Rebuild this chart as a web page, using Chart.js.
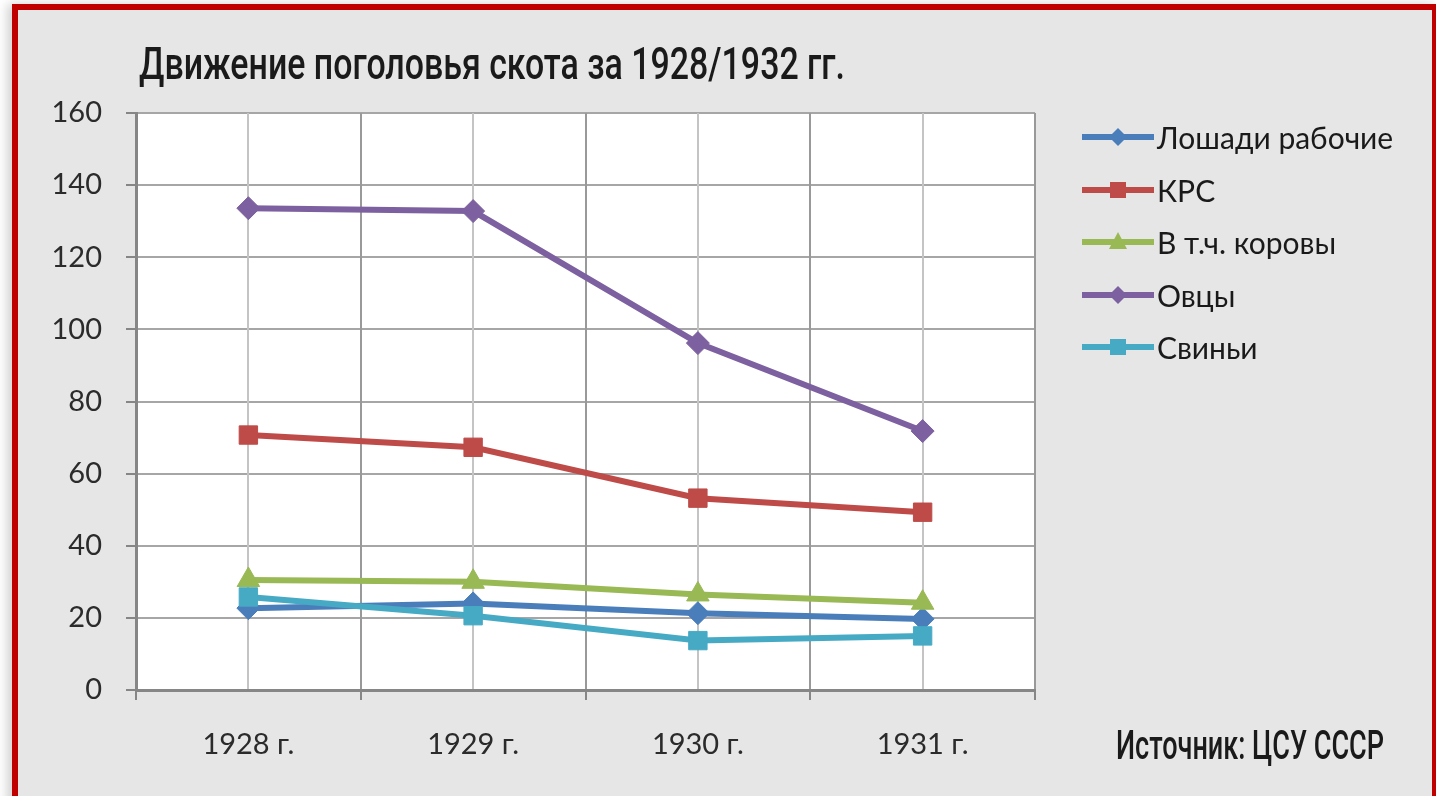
<!DOCTYPE html>
<html lang="ru">
<head>
<meta charset="utf-8">
<script src="https://cdn.jsdelivr.net/npm/chart.js@4.4.1/dist/chart.umd.min.js"></script>
<style>
  html, body { margin: 0; padding: 0; background: #fff; }
  body { width: 1436px; height: 796px; overflow: hidden; position: relative; font-family: Lato, sans-serif; }
  .frame {
    position: absolute; left: 12px; top: 4px; width: 1414px; height: 900px;
    border: 6px solid #c00000; background: #e6e6e6;
    box-shadow: -5px 0 10px rgba(0,0,0,0.18);
  }
  .wrap { position: absolute; left: 0; top: 0; width: 1436px; height: 796px; }
  .cond {
    position: absolute; white-space: nowrap; transform-origin: 0 0;
    font-family: Roboto, sans-serif; font-weight: 500; color: #1a1a1a;
  }
  .title { left: 139px; top: 37px; font-size: 45px; }
  .source { left: 1116px; top: 722px; font-size: 40px; }
  .legend { position: absolute; left: 1082px; top: 0; }
  .legend .item { position: absolute; left: 0; height: 36px; display: flex; align-items: center; white-space: nowrap; }
  .legend svg { display: block; margin-right: 3px; }
  .legend span { font-size: 30px; color: #1a1a1a; }
</style>
</head>
<body>
<div class="frame"></div>
<div class="wrap"><canvas id="chart"></canvas></div>
<div class="cond title" data-w="706">Движение поголовья скота за 1928/1932 гг.</div>
<div class="legend" id="legend"></div>
<div class="cond source" data-w="268">Источник: ЦСУ СССР</div>
<script>
const years = ['1928 г.', '1929 г.', '1930 г.', '1931 г.'];
const seriesNames = ['Лошади рабочие', 'КРС', 'В т.ч. коровы', 'Овцы', 'Свиньи'];
const horses = [22.7, 24.0, 21.3, 19.7];
const cattle = [70.7, 67.3, 53.2, 49.3];
const cows   = [30.5, 30.0, 26.5, 24.2];
const sheep  = [133.6, 132.8, 96.2, 71.8];
const pigs   = [25.8, 20.6, 13.7, 15.0];
const yTicks = [0, 20, 40, 60, 80, 100, 120, 140, 160];

const colors = ['#4a7ebb', '#be4b48', '#98b954', '#7d60a0', '#46aac5'];
const markers = ['rectRot', 'rect', 'triangle', 'rectRot', 'rect'];
const markerSize = { rectRot: 11.5, rect: 13, triangle: 13 };
const values = [horses, cattle, cows, sheep, pigs];

const datasets = seriesNames.map((name, i) => ({
  label: name,
  data: values[i],
  borderColor: colors[i],
  backgroundColor: colors[i],
  pointBackgroundColor: colors[i],
  pointBorderColor: colors[i],
  pointStyle: markers[i],
  pointRadius: markerSize[markers[i]],
  pointHoverRadius: markerSize[markers[i]],
  pointBorderWidth: 1,
  borderWidth: 6,
  tension: 0,
  order: seriesNames.length - i   // later series drawn on top, like Excel
}));

const plotBg = {
  id: 'plotBg',
  beforeDraw(chart) {
    const { ctx, chartArea: a } = chart;
    ctx.save();
    ctx.fillStyle = '#ffffff';
    ctx.fillRect(a.left, a.top, a.right - a.left, a.bottom - a.top);
    ctx.restore();
  }
};

const tickFont = { family: 'Lato', size: 29 };

new Chart(document.getElementById('chart'), {
  type: 'line',
  data: { labels: years, datasets },
  plugins: [plotBg],
  options: {
    responsive: true,
    maintainAspectRatio: false,
    animation: false,
    layout: { padding: { left: 0, top: 113, right: 401, bottom: 6 } },
    plugins: { legend: { display: false }, title: { display: false }, tooltip: { enabled: false } },
    scales: {
      y: {
        min: 0, max: 160,
        afterBuildTicks: s => { s.ticks = yTicks.map(v => ({ value: v })); },
        afterFit: s => { s.width = 136; },
        ticks: { font: tickFont, color: '#2b2b2b', padding: 24 },
        grid: { color: '#a6a6a6', lineWidth: 2, tickLength: 10, tickColor: '#868686' },
        border: { color: '#868686', width: 3 }
      },
      x: {
        offset: true,
        afterFit: s => { s.height = 100; },
        ticks: { font: tickFont, color: '#2b2b2b', padding: 27 },
        grid: { offset: true, color: '#999', lineWidth: 2, tickLength: 10, tickColor: '#868686' },
        border: { color: '#868686', width: 3 }
      },
      x2: {
        offset: true,
        position: 'bottom',
        afterFit: s => { s.height = 0; },
        ticks: { display: false },
        grid: { offset: false, color: '#c4c4c4', lineWidth: 2, drawTicks: false },
        border: { display: false }
      }
    }
  }
});

// legend built from the same series
const legend = document.getElementById('legend');
const rowY = [137, 190, 242, 295, 347];
seriesNames.forEach((name, i) => {
  const c = colors[i];
  let mark;
  if (markers[i] === 'rectRot') mark = `<polygon points="36,3 45,12 36,21 27,12" fill="${c}"/>`;
  else if (markers[i] === 'rect') mark = `<rect x="28" y="4" width="16" height="16" fill="${c}"/>`;
  else mark = `<polygon points="36,2 45,19 27,19" fill="${c}"/>`;
  const item = document.createElement('div');
  item.className = 'item';
  item.style.top = (rowY[i] - 18) + 'px';
  item.innerHTML = `<svg width="72" height="24"><line x1="0" y1="12" x2="72" y2="12" stroke="${c}" stroke-width="6"/>${mark}</svg><span>${name}</span>`;
  legend.appendChild(item);
});

// squeeze the title and source into a condensed look
document.querySelectorAll('.cond').forEach(el => {
  const k = +el.dataset.w / el.getBoundingClientRect().width;
  el.style.transform = `scaleX(${k})`;
});
</script>
</body>
</html>
